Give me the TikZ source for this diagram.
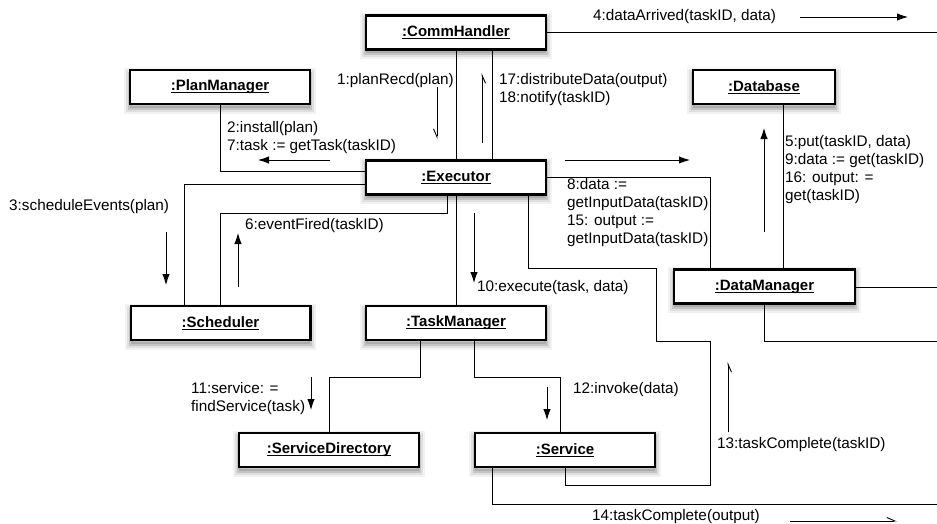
\documentclass[tikz,border=0pt]{standalone}
\usepackage{fontspec}
\setmainfont{Liberation Sans}
\usetikzlibrary{arrows.meta}
\newcommand\uln[1]{\setbox0\hbox{#1}\rlap{\rule[-2.4pt]{\wd0}{0.9pt}}\box0}
\begin{document}
\begin{tikzpicture}[x=1pt,y=-1pt,
 softshadow/.style={
   preaction={draw=black, draw opacity=0.05, line width=12pt, transform canvas={yshift=-3.5pt}},
   preaction={draw=black, draw opacity=0.07, line width=8pt, transform canvas={yshift=-3.5pt}},
   preaction={fill=black, fill opacity=0.12, draw=black, draw opacity=0.12, line width=4pt, transform canvas={yshift=-3.5pt}}},
 obj/.style={softshadow, draw, line width=2.3pt, fill=white, minimum height=34pt, inner sep=0pt,
   font=\fontsize{15}{18}\selectfont\bfseries},
 lbl/.style={anchor=west, inner sep=0pt, align=left, font=\fontsize{15.3}{18}\selectfont},
 conn/.style={line width=0.9pt},
 msg/.style={line width=0.9pt, -{Latex[length=11pt,width=7.5pt]}},
 half/.style={line width=0.9pt, -{Straight Barb[harpoon,length=8pt,width=7pt]}},
 halfs/.style={line width=0.9pt, -{Straight Barb[harpoon,swap,length=8pt,width=7pt]}},
]
\fill[white] (0,0) rectangle (937,523);
\useasboundingbox (0,0) rectangle (937,523);

% helper coordinates
\foreach \xx in {184,420,447,474,492,528,560,565,656,710,764,783}{\coordinate (c\xx) at (\xx,0);}
\foreach \yy in {171,177,184,213,268,287,341,377,485}{\coordinate (r\yy) at (0,\yy);}
\coordinate (edgeA) at (937,32);
\coordinate (edgeB) at (937,504);
\coordinate (edgeC) at (937,287);
\coordinate (edgeD) at (937,341);

% objects
\node[obj, minimum width=179.7pt] (comm)   at (456,32.5)  {\uln{:CommHandler}};
\node[obj, minimum width=179.7pt] (plan)   at (220,87)    {\uln{:PlanManager}};
\node[obj, minimum width=179.7pt] (exec)   at (456,177.5) {\uln{:Executor}};
\node[obj, minimum width=141.7pt] (db)     at (764,87)    {\uln{:Database}};
\node[obj, minimum width=179.7pt] (sched)  at (220.5,323) {\uln{:Scheduler}};
\node[obj, minimum width=179.7pt] (task)   at (456,323)   {\uln{:TaskManager}};
\node[obj, minimum width=180.7pt] (dm)     at (764.5,286.5) {\uln{:DataManager}};
\node[obj, minimum width=179.7pt] (serdir) at (329,450)   {\uln{:ServiceDirectory}};
\node[obj, minimum width=179.7pt] (serv)   at (565,450)   {\uln{:Service}};

% links
\draw[conn] (comm.south) -- (exec.north);
\draw[conn] (c492 |- comm.south) -- (c492 |- exec.north);
\draw[conn] (comm.east |- edgeA) -- (edgeA);
\draw[conn] (plan.south) |- (exec.west |- r171);
\draw[conn] (exec.west |- r184) -| (c184 |- sched.north);
\draw[conn] (c447 |- exec.south) |- (sched.north |- r213) -- (sched.north);
\draw[conn] (exec.south) -- (task.north);
\draw[conn] (exec.east |- r177) -| (c710 |- dm.north);
\draw[conn] (c528 |- exec.south) |- (c656 |- r268) |- (c710 |- r341) |- (c565 |- r485) -- (c565 |- serv.south);
\draw[conn] (c420 |- task.south) |- (serdir.north |- r377) -- (serdir.north);
\draw[conn] (c474 |- task.south) |- (c560 |- r377) -- (c560 |- serv.north);
\draw[conn] (c492 |- serv.south) |- (edgeB);
\draw[conn] (c783 |- db.south) -- (c783 |- dm.north);
\draw[conn] (dm.east |- edgeC) -- (edgeC);
\draw[conn] (c764 |- dm.south) |- (edgeD);

% message arrows
\coordinate (a1s) at (437,87);  \coordinate (a1e) at (437,139);
\coordinate (a17s) at (482,143); \coordinate (a17e) at (482,73);
\coordinate (a13s) at (728,432); \coordinate (a13e) at (728,362);
\coordinate (a14s) at (790,521); \coordinate (a14e) at (897,521);
\coordinate (a4s) at (800,17);  \coordinate (a4e) at (908,17);
\coordinate (a2s) at (330,160); \coordinate (a2e) at (258,160);
\coordinate (a8s) at (565,160); \coordinate (a8e) at (690,160);
\coordinate (a3s) at (166,232); \coordinate (a3e) at (166,285);
\coordinate (a6s) at (238,287); \coordinate (a6e) at (238,233);
\coordinate (a10s) at (474,213); \coordinate (a10e) at (474,283);
\coordinate (a5s) at (764,232); \coordinate (a5e) at (764,128);
\coordinate (a11s) at (311,377); \coordinate (a11e) at (311,410);
\coordinate (a12s) at (547,387); \coordinate (a12e) at (547,420);

\draw[halfs] (a1s) -- (a1e);
\draw[halfs] (a17s) -- (a17e);
\draw[halfs] (a13s) -- (a13e);
\draw[half] (a14s) -- (a14e);
\draw[msg] (a4s) -- (a4e);
\draw[msg] (a2s) -- (a2e);
\draw[msg] (a8s) -- (a8e);
\draw[msg] (a3s) -- (a3e);
\draw[msg] (a6s) -- (a6e);
\draw[msg] (a10s) -- (a10e);
\draw[msg] (a5s) -- (a5e);
\draw[msg] (a11s) -- (a11e);
\draw[msg] (a12s) -- (a12e);

% labels
\node[lbl] (l1)  at (337,81)  {1:planRecd(plan)};
\node[lbl] (l17) at (499,89.5) {17:distributeData(output)\\18:notify(taskID)};
\node[lbl] (l4)  at (593,17)  {4:dataArrived(taskID, data)};
\node[lbl] (l2)  at (227,137.5) {2:install(plan)\\7:task := getTask(taskID)};
\node[lbl] (l5)  at (785,170) {5:put(taskID, data)\\9:data := get(taskID)\\16: output: =\\get(taskID)};
\node[lbl] (l8)  at (567,213) {8:data :=\\getInputData(taskID)\\15: output :=\\getInputData(taskID)};
\node[lbl] (l3)  at (9,207)   {3:scheduleEvents(plan)};
\node[lbl] (l6)  at (245,226) {6:eventFired(taskID)};
\node[lbl] (l10) at (477,288) {10:execute(task, data)};
\node[lbl] (l11) at (191,399) {11:service: =\\findService(task)};
\node[lbl] (l12) at (573,390) {12:invoke(data)};
\node[lbl] (l13) at (717,445) {13:taskComplete(taskID)};
\node[lbl] (l14) at (592,517) {14:taskComplete(output)};
\end{tikzpicture}
\end{document}
